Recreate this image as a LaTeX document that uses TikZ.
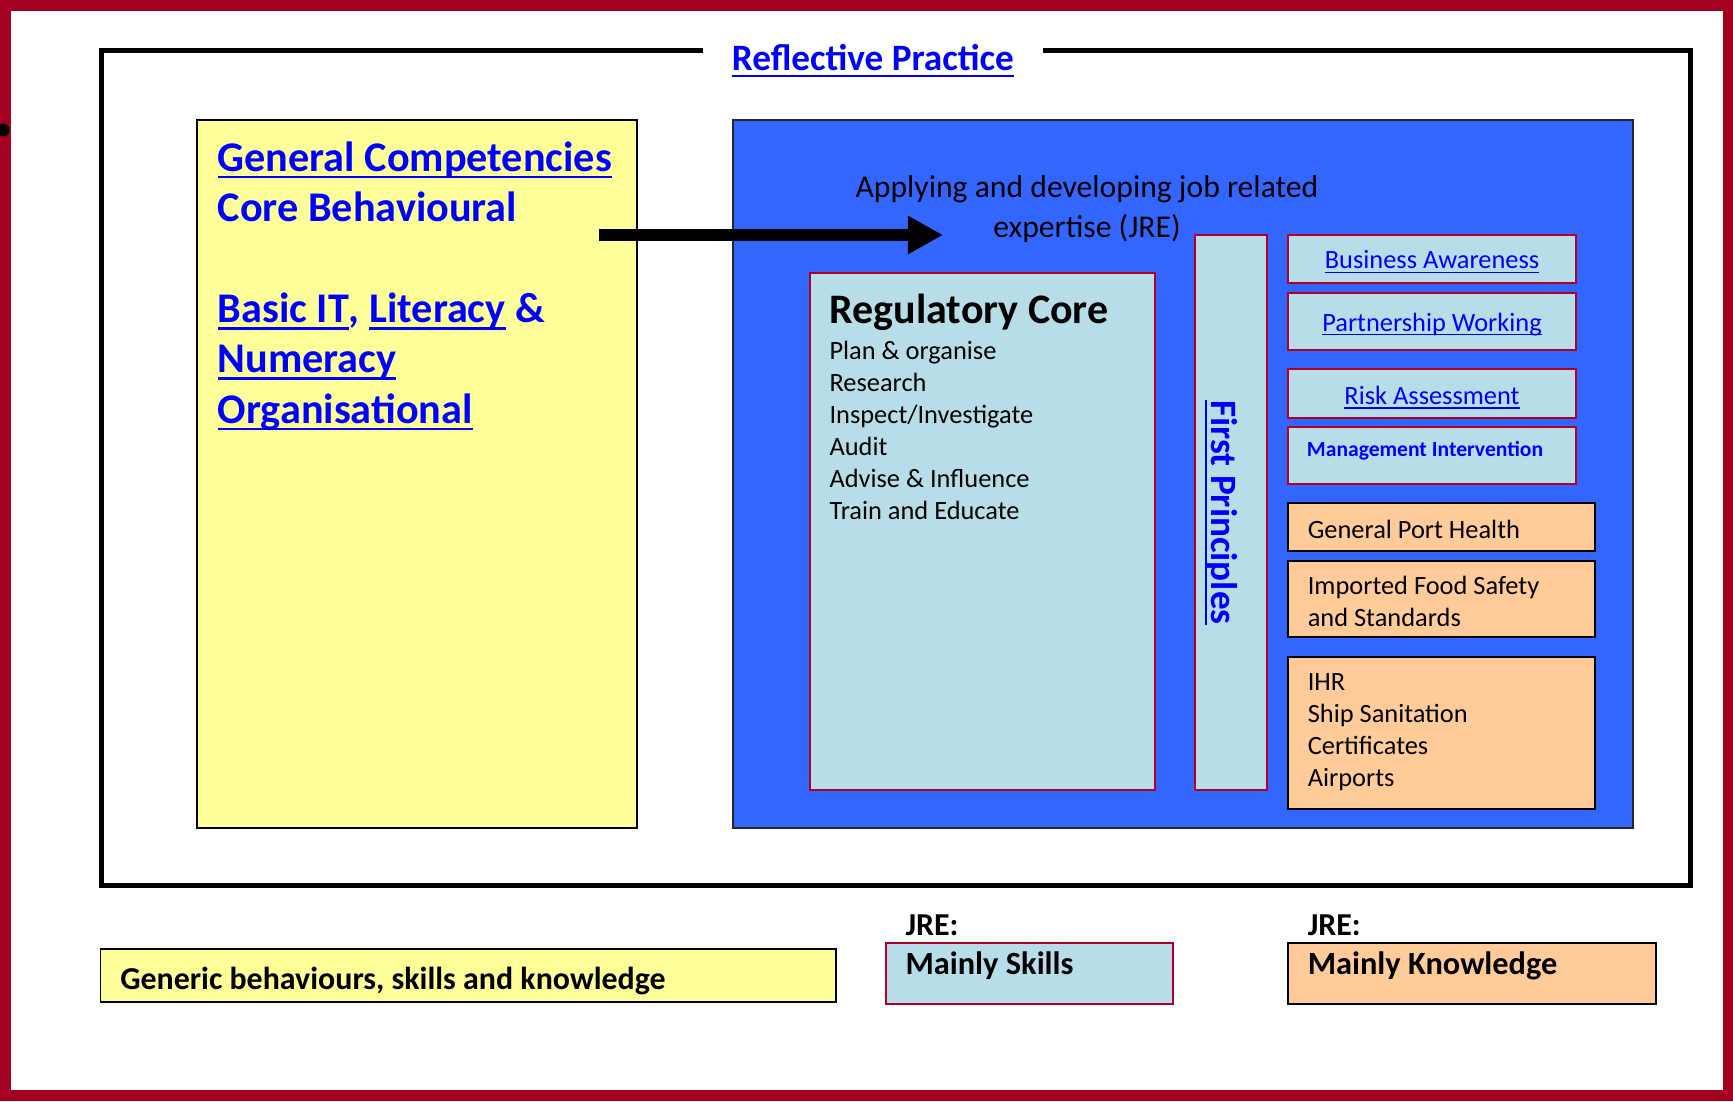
\documentclass[tikz,border=0pt]{standalone}
\usepackage{fontspec}
\setmainfont{Carlito}
\usetikzlibrary{fit, calc, arrows.meta}

\definecolor{slidered}{HTML}{A50021}
\definecolor{linkblue}{HTML}{0000FF}
\definecolor{genyellow}{HTML}{FFFF99}
\definecolor{jreblue}{HTML}{3366FF}
\definecolor{skillblue}{HTML}{B7DEE8}
\definecolor{knoworange}{HTML}{FFCC99}
\definecolor{boxred}{HTML}{B0002A}

% underlined "link" text
\newsavebox{\linkbox}
\newcommand{\linkline}[1]{{\sbox{\linkbox}{#1}\rlap{\rule[-0.17em]{\wd\linkbox}{0.07em}}\usebox{\linkbox}}}
\newcommand{\fsize}[2]{\fontsize{#1}{#2}\selectfont}

\tikzset{
  area/.style={inner sep=0pt, line width=0.6pt},
  genbox/.style={area, draw=black, fill=genyellow},
  jrebox/.style={area, draw=black!85, fill=jreblue},
  skillbox/.style={area, draw=boxred, line width=0.8pt, fill=skillblue},
  knowbox/.style={area, draw=black, fill=knoworange},
  label/.style={inner sep=0pt, anchor=base west, align=left},
}

\begin{document}
\begin{tikzpicture}[x=0.41667pt, y=-0.41667pt]
    \useasboundingbox (0,0) rectangle (1733,1101);

    % slide frame and stray bullet
    \draw[slidered, line width=4.6pt] (5.5,5.5) rectangle (1728,1095.5);
    \fill (3,130) circle[radius=6.5];

    % Reflective Practice frame
    \node[draw, line width=2.3pt, inner sep=0pt, fit={(101.5,50.5) (1690.5,885.5)}] (refl) {};
    \node[fill=white, inner xsep=12pt, inner ysep=3pt, anchor=base, text=linkblue, font=\fsize{15.5}{18}\bfseries] (refltitle) at (873,71) {\linkline{Reflective Practice}};

    % General competencies (multi-line labels sit on their last baseline)
    \node[genbox, fit={(197,120) (637,828)}] (gen) {};
    \node[label, text=linkblue, font=\fsize{17.6}{21}\bfseries] (gentext) at ($(gen.north west)+(21,304)$) {\linkline{General Competencies}\\ Core Behavioural\\[21pt] \linkline{Basic IT}, \linkline{Literacy} \&\\ \linkline{Numeracy}\\ \linkline{Organisational}};

    % Job related expertise
    \node[jrebox, fit={(733,120) (1633,828)}] (jre) {};
    \node[inner sep=0pt, anchor=base, align=center, font=\fsize{13.2}{16.3}] (jretext) at (1087,237) {Applying and developing job related\\ expertise (JRE)};

    \coordinate (arrowstart) at (599,235);
    \coordinate (arrowend) at (943,235);
    \draw[line width=5pt, -{Triangle[length=14.6pt, width=15pt]}] (arrowstart) -- (arrowend);

    % Regulatory core
    \node[skillbox, fit={(810,273) (1155,790)}] (reg) {};
    \node[label, font=\fsize{17.5}{21}\bfseries] (regtitle) at ($(reg.north west)+(20,51)$) {Regulatory Core};
    \node[label, font=\fsize{11}{13.33}] (reglist) at ($(reg.north west)+(20,247)$) {Plan \& organise\\ Research\\ Inspect/Investigate\\ Audit\\ Advise \& Influence\\ Train and Educate};

    % First principles
    \node[skillbox, fit={(1195,235) (1267,790)}] (fp) {};
    \node[rotate=-90, inner sep=0pt, text=linkblue, font=\fsize{15.5}{18}\bfseries] (fptext) at ($(fp.center)+(-10,0)$) {\linkline{First Principles}};

    % Skills boxes
    \node[skillbox, fit={(1288,235) (1576,283)}] (busi) {};
    \node[inner sep=0pt, anchor=base, text=linkblue, font=\fsize{11}{13}] (busitext) at ($(busi.center)+(0,10)$) {\linkline{Business Awareness}};
    \node[skillbox, fit={(1288,293) (1576,350)}] (part) {};
    \node[inner sep=0pt, anchor=base, text=linkblue, font=\fsize{11}{13}] (parttext) at ($(part.center)+(0,9.5)$) {\linkline{Partnership Working}};
    \node[skillbox, fit={(1288,369) (1576,418)}] (risk) {};
    \node[inner sep=0pt, anchor=base, text=linkblue, font=\fsize{11}{13}] (risktext) at ($(risk.center)+(0,11)$) {\linkline{Risk Assessment}};
    \node[skillbox, fit={(1288,427) (1576,484)}] (mgmt) {};
    \node[inner sep=0pt, anchor=base, text=linkblue, font=\fsize{9}{11}\bfseries] (mgmttext) at ($(mgmt.north)+(-7,30)$) {Management Intervention};

    % Knowledge boxes
    \node[knowbox, fit={(1288,503) (1595,551)}] (port) {};
    \node[label, font=\fsize{11}{13.33}] (porttext) at ($(port.north west)+(20,36)$) {General Port Health};
    \node[knowbox, fit={(1288,561) (1595,637)}] (food) {};
    \node[label, font=\fsize{11}{13.33}] (foodtext) at ($(food.north west)+(20,66)$) {Imported Food Safety\\ and Standards};
    \node[knowbox, fit={(1288,657) (1595,809)}] (ihr) {};
    \node[label, font=\fsize{11}{13.33}] (ihrtext) at ($(ihr.north west)+(20,130)$) {IHR\\ Ship Sanitation\\ Certificates\\ Airports};

    % Key
    \node[genbox, fit={(100.5,949) (836,1002)}] (genkey) {};
    \node[label, font=\fsize{13.3}{16}\bfseries] (genkeytext) at ($(genkey.north west)+(20,41)$) {Generic behaviours, skills and knowledge};
    \node[skillbox, fit={(886,943) (1173,1004)}] (skillkey) {};
    \node[label, font=\fsize{13.3}{16}\bfseries] (skilljre) at ($(skillkey.north west)+(20,-7)$) {JRE:};
    \node[label, font=\fsize{13.5}{16}\bfseries] (skillkeytext) at ($(skillkey.north west)+(20,32)$) {Mainly Skills};
    \node[knowbox, fit={(1288,943) (1656,1004)}] (knowkey) {};
    \node[label, font=\fsize{13.3}{16}\bfseries] (knowjre) at ($(knowkey.north west)+(20,-7)$) {JRE:};
    \node[label, font=\fsize{13.5}{16}\bfseries] (knowkeytext) at ($(knowkey.north west)+(20,32)$) {Mainly Knowledge};
\end{tikzpicture}
\end{document}
